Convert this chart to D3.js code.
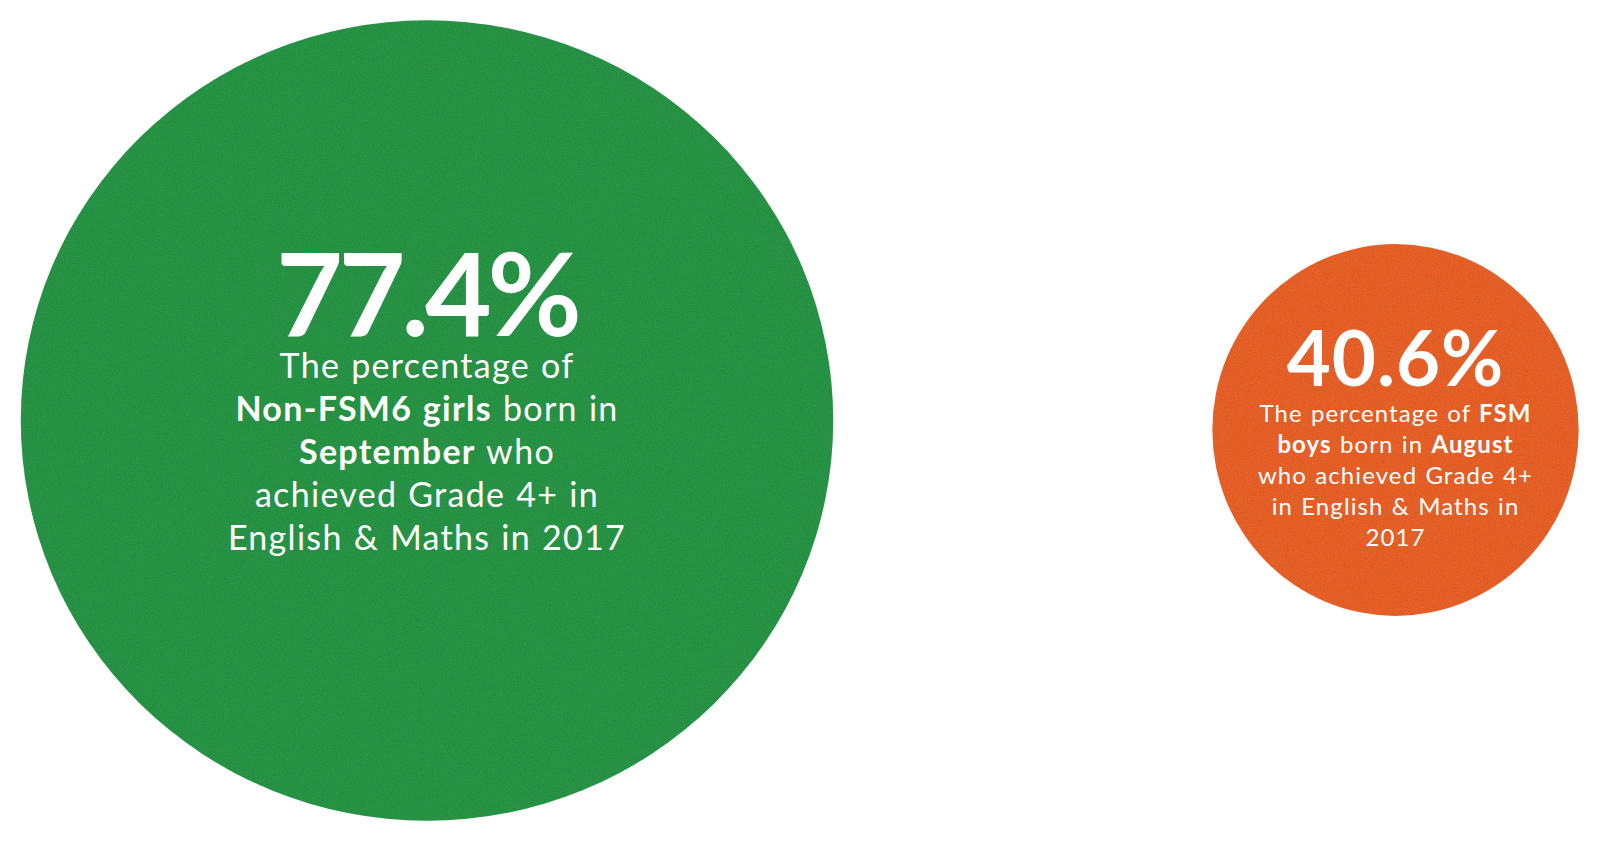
<!DOCTYPE html>
<html>
<head>
<meta charset="utf-8">
<script src="https://cdn.jsdelivr.net/npm/d3@7"></script>
<style>
  html, body { margin: 0; padding: 0; background: #ffffff; }
  svg { display: block; }
</style>
</head>
<body>
<svg id="chart" width="1600" height="850"></svg>
<script>
// ---- data ----
const groups = ["nonFsmGirlsSep", "fsmBoysAug"];
const values = [77.4, 40.6];
const valueLabels = ["77.4%", "40.6%"];
const colors = ["#2a9547", "#e9622c"];
// description lines, each a list of [text, bold]
const descGreen = [
  [["The percentage of", false]],
  [["Non-FSM6 girls", true], [" born in", false]],
  [["September", true], [" who", false]],
  [["achieved Grade 4+ in", false]],
  [["English & Maths in 2017", false]]
];
const descOrange = [
  [["The percentage of ", false], ["FSM", true]],
  [["boys", true], [" born in ", false], ["August", true]],
  [["who achieved Grade 4+", false]],
  [["in English & Maths in", false]],
  [["2017", false]]
];
const descriptions = [descGreen, descOrange];

// ---- layout ----
const centerY = [420.5, 430];
const aspect = [[1.008, 0.993], [0.99, 1.005]];
const numSize = [115, 76];
const numSpacing = [-4, 1];
const numOffset = [-85, -44];
const bodySize = [34, 24];
const bodySpacing = [1.3, 1.1];
const bodyStart = [-43, -8];
const lineH = [43, 31];
const FONT = "Lato, 'Open Sans', sans-serif";

const svg = d3.select("#chart");
const defs = svg.append("defs");
const f = defs.append("filter").attr("id", "grain")
  .attr("x", "0").attr("y", "0").attr("width", "100%").attr("height", "100%");
f.append("feTurbulence").attr("type", "fractalNoise").attr("baseFrequency", 0.75)
  .attr("numOctaves", 3).attr("seed", 4).attr("result", "n");
f.append("feColorMatrix").attr("in", "n").attr("type", "matrix")
  .attr("values", "0 0 0 0 0  0 0 0 0 0  0 0 0 0 0  0.35 0 0 0 -0.12").attr("result", "a");
f.append("feComposite").attr("in", "a").attr("in2", "SourceGraphic").attr("operator", "in").attr("result", "b");
const fm = f.append("feMerge");
fm.append("feMergeNode").attr("in", "SourceGraphic");
fm.append("feMergeNode").attr("in", "b");

const x = d3.scalePoint().domain(groups).range([427, 1395.5]);
const r = d3.scaleLinear().domain(d3.extent(values)).range([185, 403]);

const data = groups.map((g, i) => ({
  g, v: values[i], label: valueLabels[i], color: colors[i], desc: descriptions[i], i
}));

const node = svg.selectAll("g.bubble").data(data).join("g")
  .attr("class", "bubble")
  .attr("transform", d => `translate(${x(d.g)},${centerY[d.i]})`);

node.append("ellipse")
  .attr("rx", d => r(d.v) * aspect[d.i][0])
  .attr("ry", d => r(d.v) * aspect[d.i][1])
  .attr("fill", d => d.color)
  .attr("filter", "url(#grain)");

node.append("text")
  .attr("text-anchor", "middle")
  .attr("y", d => numOffset[d.i])
  .attr("fill", "#fff")
  .style("font-family", FONT)
  .style("font-weight", 700)
  .style("font-size", d => numSize[d.i] + "px")
  .style("letter-spacing", d => numSpacing[d.i] + "px")
  .text(d => d.label);

node.each(function(d) {
  const g = d3.select(this);
  d.desc.forEach((line, li) => {
    const t = g.append("text")
      .attr("text-anchor", "middle")
      .attr("y", bodyStart[d.i] + li * lineH[d.i])
      .attr("fill", "#fff")
      .style("font-family", FONT)
      .style("font-size", bodySize[d.i] + "px")
      .style("letter-spacing", bodySpacing[d.i] + "px")
      .style("word-spacing", "1px");
    line.forEach(([txt, bold]) => {
      t.append("tspan")
        .style("font-weight", bold ? 700 : 400)
        .attr("xml:space", "preserve")
        .text(txt);
    });
  });
});
</script>
</body>
</html>
